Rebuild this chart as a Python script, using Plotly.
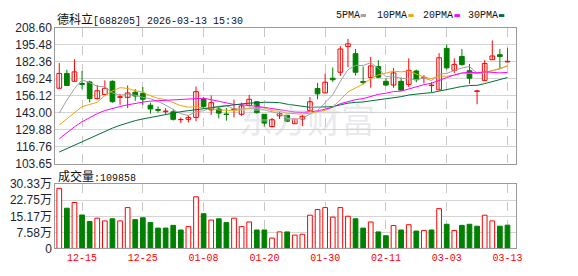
import plotly.graph_objects as go

# ---------------- data ----------------
dates = ["12-10", "12-11", "12-12", "12-15", "12-16", "12-17", "12-18", "12-19", "12-22", "12-23",
         "12-24", "12-25", "12-26", "12-29", "12-30", "12-31", "01-05", "01-06", "01-07", "01-08",
         "01-09", "01-12", "01-13", "01-14", "01-15", "01-16", "01-19", "01-20", "01-21", "01-22",
         "01-23", "01-26", "01-27", "01-28", "01-29", "01-30", "02-02", "02-03", "02-04", "02-05",
         "02-06", "02-09", "02-10", "02-11", "02-12", "02-13", "02-24", "02-25", "02-26", "02-27",
         "03-02", "03-03", "03-04", "03-05", "03-06", "03-09", "03-10", "03-11", "03-12", "03-13"]

opens = [161.9, 173.4, 167.3, 165.6, 166.8, 153.9, 157.1, 167.3, 154.9, 154.9,
         158.8, 158.0, 148.8, 145.5, 143.8, 143.7, 137.6, 137.9, 139.4, 153.4,
         145.2, 145.9, 142.0, 145.4, 141.8, 148.6, 151.5, 141.8, 132.3, 140.6,
         141.0, 134.5, 138.1, 144.7, 161.7, 158.3, 169.7, 174.3, 194.3, 188.7,
         167.1, 170.2, 178.7, 167.3, 164.4, 167.3, 164.9, 175.3, 169.7, 164.0,
         160.7, 192.8, 175.8, 186.5, 175.5, 159.5, 168.0, 184.0, 187.9, 182.3]
highs = [181.4, 176.3, 184.3, 175.3, 167.8, 164.4, 168.0, 168.0, 157.6, 164.1,
         161.2, 162.9, 150.8, 147.9, 146.6, 145.4, 139.4, 141.1, 163.2, 155.1,
         156.4, 147.4, 146.6, 153.2, 150.8, 156.8, 152.0, 142.0, 139.0, 143.7,
         141.1, 138.6, 141.1, 155.1, 166.1, 173.4, 178.0, 194.5, 200.1, 192.3,
         178.7, 186.2, 183.6, 169.7, 177.5, 170.2, 185.0, 176.3, 172.1, 166.6,
         189.1, 195.7, 185.0, 192.3, 180.7, 160.7, 183.6, 198.9, 192.3, 192.8]
lows = [161.9, 164.1, 167.3, 161.2, 151.0, 153.4, 161.9, 150.8, 149.1, 146.6,
        152.2, 149.1, 142.3, 143.0, 141.8, 136.9, 135.2, 135.5, 136.4, 146.2,
        141.3, 138.6, 136.9, 139.4, 140.6, 147.9, 142.3, 132.1, 131.6, 138.1,
        135.7, 134.5, 132.6, 144.7, 153.4, 158.3, 166.8, 171.4, 178.2, 171.7,
        164.9, 162.4, 169.7, 163.6, 162.4, 160.0, 162.9, 166.6, 165.6, 158.8,
        160.7, 176.5, 173.8, 179.4, 165.3, 149.6, 168.0, 184.0, 177.0, 181.8]
closes = [173.4, 164.1, 174.6, 164.8, 153.9, 160.0, 161.9, 151.5, 155.4, 158.3,
          155.9, 153.4, 145.9, 144.8, 144.3, 137.9, 137.7, 139.4, 159.3, 147.9,
          150.8, 142.7, 141.6, 145.9, 148.3, 153.4, 143.0, 135.0, 137.6, 142.3,
          136.4, 138.1, 140.3, 151.5, 157.6, 166.6, 168.5, 192.3, 196.3, 174.3,
          166.3, 179.2, 170.5, 164.4, 173.8, 160.5, 175.8, 168.5, 170.4, 164.4,
          185.5, 177.7, 180.4, 180.2, 169.7, 159.9, 181.1, 186.9, 186.5, 182.8]

# volume in 万 (10k) shares
volumes = [28.4, 19.0, 21.7, 15.8, 12.7, 14.3, 13.0, 14.0, 13.0, 19.3,
           13.6, 14.5, 12.2, 9.6, 9.6, 10.9, 8.7, 10.3, 24.4, 16.4,
           13.4, 14.0, 12.2, 14.3, 10.3, 12.5, 8.7, 8.7, 4.9, 7.8,
           7.8, 6.3, 6.7, 15.7, 18.4, 19.3, 14.8, 19.3, 15.2, 14.0,
           9.6, 12.5, 7.8, 6.0, 10.8, 8.7, 11.2, 8.2, 8.5, 8.7,
           18.8, 11.4, 8.5, 10.9, 11.4, 10.5, 15.7, 13.0, 10.5, 10.9858]

ma5 = [142.8, 152.8, 161.6, 168.5, 166.2, 163.5, 163.0, 158.4, 156.5, 157.4,
       156.6, 154.9, 153.8, 151.7, 148.9, 145.3, 142.2, 140.9, 143.8, 144.5,
       147.1, 148.0, 148.5, 145.8, 145.9, 146.4, 146.4, 145.1, 143.5, 142.3,
       138.9, 137.9, 138.9, 141.7, 144.8, 150.8, 156.9, 167.3, 176.3, 179.6,
       179.5, 181.7, 177.3, 170.9, 170.8, 169.7, 169.0, 168.6, 169.8, 167.9,
       172.9, 173.3, 175.7, 177.6, 178.7, 173.6, 174.3, 175.6, 176.8, 179.4]
ma10 = [133.5, 138.1, 142.8, 147.7, 149.4, 151.1, 156.3, 159.9, 162.4, 161.8,
        160.0, 159.0, 156.1, 154.1, 153.1, 150.9, 148.5, 147.3, 147.7, 146.7,
        146.2, 145.1, 144.7, 144.8, 145.2, 146.7, 147.2, 146.8, 144.6, 144.1,
        142.6, 142.2, 142.0, 142.6, 143.5, 144.8, 147.4, 153.1, 159.0, 162.2,
        165.2, 169.3, 172.3, 173.6, 175.2, 174.6, 175.3, 173.0, 170.4, 169.4,
        171.3, 171.2, 172.1, 173.7, 173.3, 173.3, 173.8, 175.6, 177.2, 179.1]
ma20 = [122.8, 127.5, 132.1, 136.0, 139.4, 142.3, 144.7, 146.4, 147.8, 149.1,
        150.3, 151.2, 152.0, 152.3, 152.5, 152.6, 153.0, 153.4, 154.0, 154.2,
        153.1, 152.0, 150.4, 149.4, 149.2, 148.8, 147.9, 147.1, 146.2, 145.4,
        144.4, 143.6, 143.3, 143.7, 144.3, 145.8, 147.3, 150.0, 151.8, 153.1,
        153.9, 155.7, 157.2, 158.1, 159.4, 159.7, 161.4, 163.0, 164.7, 165.8,
        168.2, 170.2, 172.2, 173.7, 174.3, 173.9, 174.6, 174.3, 173.8, 174.2]
ma30 = [112.6, 115.3, 118.0, 120.8, 123.6, 126.3, 128.9, 131.1, 133.3, 135.2,
        136.9, 138.2, 139.4, 140.5, 141.6, 142.6, 143.8, 144.6, 145.4, 146.1,
        146.8, 147.6, 148.4, 149.1, 149.8, 150.4, 150.8, 151.1, 151.0, 150.8,
        149.6, 148.7, 147.6, 147.2, 147.3, 147.5, 147.7, 149.1, 150.4, 151.0,
        151.3, 152.2, 153.0, 153.7, 154.6, 155.4, 156.7, 157.6, 158.0, 158.5,
        159.7, 160.9, 162.2, 163.3, 164.0, 164.2, 165.5, 167.2, 168.9, 170.2]

price_ticks = [103.65, 116.76, 129.88, 143.00, 156.12, 169.24, 182.36, 195.48, 208.60]
vol_ticks = [0, 7.58, 15.17, 22.75, 30.33]
vol_tick_text = ["0", "7.58万", "15.17万", "22.75万", "30.33万"]
x_tick_labels = ["12-15", "12-25", "01-08", "01-20", "01-30", "02-11", "03-03", "03-13"]

stock_title = "德科立[688205] 2026-03-13 15:30"
vol_title = "成交量:109858"
ma_names = ["5PMA", "10PMA", "20PMA", "30PMA"]

# ---------------- styles ----------------
W, H = 578, 276
RED = "#ff0000"
GREEN = "#008000"
MA_COLORS = ["#a0a0a0", "#f0a30a", "#ff00ff", "#006f3a"]
MONO = "Liberation Mono, DejaVu Sans Mono, monospace"
SANS = "Liberation Sans, Arial, sans-serif"
CJK = "Noto Sans CJK SC"


def px_x(x):
    return x / W


def px_y(y):
    return 1 - y / H


n = len(closes)
idx = list(range(n))
tick_idx = [dates.index(d) for d in x_tick_labels]

fig = go.Figure()

# wicks
for up in (True, False):
    xs, ys = [], []
    for i in idx:
        if (closes[i] >= opens[i]) == up:
            xs += [i, i, None]
            ys += [lows[i], highs[i], None]
    fig.add_trace(go.Scatter(x=xs, y=ys, mode="lines",
                             line=dict(color=RED if up else GREEN, width=1),
                             hoverinfo="skip", showlegend=False, xaxis="x", yaxis="y"))

# bodies
for up in (True, False):
    bx, by, bb = [], [], []
    for i in idx:
        if (closes[i] >= opens[i]) == up:
            lo = min(opens[i], closes[i])
            bx.append(i)
            bb.append(lo)
            by.append(max(abs(closes[i] - opens[i]), 0.2))
    fig.add_trace(go.Bar(x=bx, y=by, base=bb, width=0.62,
                         marker=dict(color="white" if up else GREEN,
                                     line=dict(color=RED if up else GREEN, width=1)),
                         showlegend=False, xaxis="x", yaxis="y"))

# moving averages
for ma, col in zip([ma5, ma10, ma20, ma30], MA_COLORS):
    fig.add_trace(go.Scatter(x=idx, y=ma, mode="lines", line=dict(color=col, width=1),
                             showlegend=False, xaxis="x", yaxis="y"))

# volume
for up in (True, False):
    vx, vy = [], []
    for i in idx:
        is_up = True if i == 0 else closes[i] >= closes[i - 1]
        if is_up == up:
            vx.append(i)
            vy.append(volumes[i])
    fig.add_trace(go.Bar(x=vx, y=vy, width=0.62,
                         marker=dict(color="white" if up else GREEN,
                                     line=dict(color=RED if up else GREEN, width=1)),
                         showlegend=False, xaxis="x2", yaxis="y2"))

xdom = [px_x(56), px_x(522)]
xrange_ = [-0.52, 60.08]
grid_c = "#d4d4d4"
frame_c = "#9a9a9a"

fig.update_layout(
    width=W, height=H, margin=dict(l=0, r=0, t=0, b=0),
    paper_bgcolor="white", plot_bgcolor="white", barmode="overlay",
    showlegend=False,
    xaxis=dict(domain=xdom, range=xrange_, tickmode="array", tickvals=tick_idx,
               showticklabels=False, showgrid=True, gridcolor="#c8c8c8", griddash="dash",
               gridwidth=1, zeroline=False, showline=True, linecolor=frame_c, mirror=True,
               anchor="y", ticks=""),
    yaxis=dict(domain=[px_y(165), px_y(22)], range=[103.64, 208.61], tickmode="array",
               tickvals=price_ticks, ticktext=[f"{v:.2f}" for v in price_ticks],
               showgrid=True, gridcolor=grid_c, gridwidth=1, zeroline=False,
               showline=True, linecolor=frame_c, mirror=True, ticks="",
               tickfont=dict(family=SANS, size=12, color="#1e1e30"), anchor="x"),
    xaxis2=dict(domain=xdom, range=xrange_, tickmode="array", tickvals=tick_idx,
                ticktext=x_tick_labels, showgrid=True, gridcolor="#c8c8c8", griddash="dash",
                gridwidth=1, zeroline=False, showline=True, linecolor=frame_c, mirror=True,
                anchor="y2", ticks="", tickfont=dict(family=MONO, size=10, color=RED)),
    yaxis2=dict(domain=[px_y(254.3), px_y(186.7)], range=[0, 30.34], tickmode="array",
                tickvals=vol_ticks, ticktext=vol_tick_text, showgrid=True, gridcolor=grid_c,
                gridwidth=1, zeroline=False, showline=True, linecolor=frame_c, mirror=True,
                ticks="", tickfont=dict(family=SANS + ", " + CJK, size=12, color="#1e1e30"),
                anchor="x2"),
)

annotations = []
# watermark
annotations.append(dict(text="东方财富", x=px_x(311), y=px_y(90), xref="paper", yref="paper",
                        showarrow=False, font=dict(family=CJK, size=34, color="rgba(205,205,218,0.45)")))
# title
annotations.append(dict(text=f"<span style='font-family:{CJK};font-size:12px'>{stock_title[:3]}</span>{stock_title[3:]}",
                        x=px_x(56), y=px_y(12), xref="paper", yref="paper", xanchor="left",
                        yanchor="middle", showarrow=False,
                        font=dict(family=MONO, size=10, color="#111")))
# volume title
annotations.append(dict(text=f"<span style='font-family:{CJK};font-size:12px'>{vol_title[:3]}</span>{vol_title[3:]}",
                        x=px_x(57), y=px_y(178), xref="paper", yref="paper", xanchor="left",
                        yanchor="middle", showarrow=False,
                        font=dict(family=MONO, size=10, color="#111")))
# MA legend
leg_text_x = [338.3, 380.0, 425.7, 471.7]
leg_sq_x = [365.0, 413.3, 460.0, 505.0]
shapes = []
for name, tx, sx, col in zip(ma_names, leg_text_x, leg_sq_x, MA_COLORS):
    annotations.append(dict(text=name, x=px_x(tx), y=px_y(9), xref="paper", yref="paper",
                            xanchor="left", yanchor="middle", showarrow=False,
                            font=dict(family=MONO, size=10, color="#111")))
    shapes.append(dict(type="rect", xref="paper", yref="paper", x0=px_x(sx), x1=px_x(sx + 5.5),
                       y0=px_y(10.5), y1=px_y(7.5), fillcolor=col, line=dict(width=0)))

fig.update_layout(annotations=annotations, shapes=shapes)

fig.write_html("out.html")
